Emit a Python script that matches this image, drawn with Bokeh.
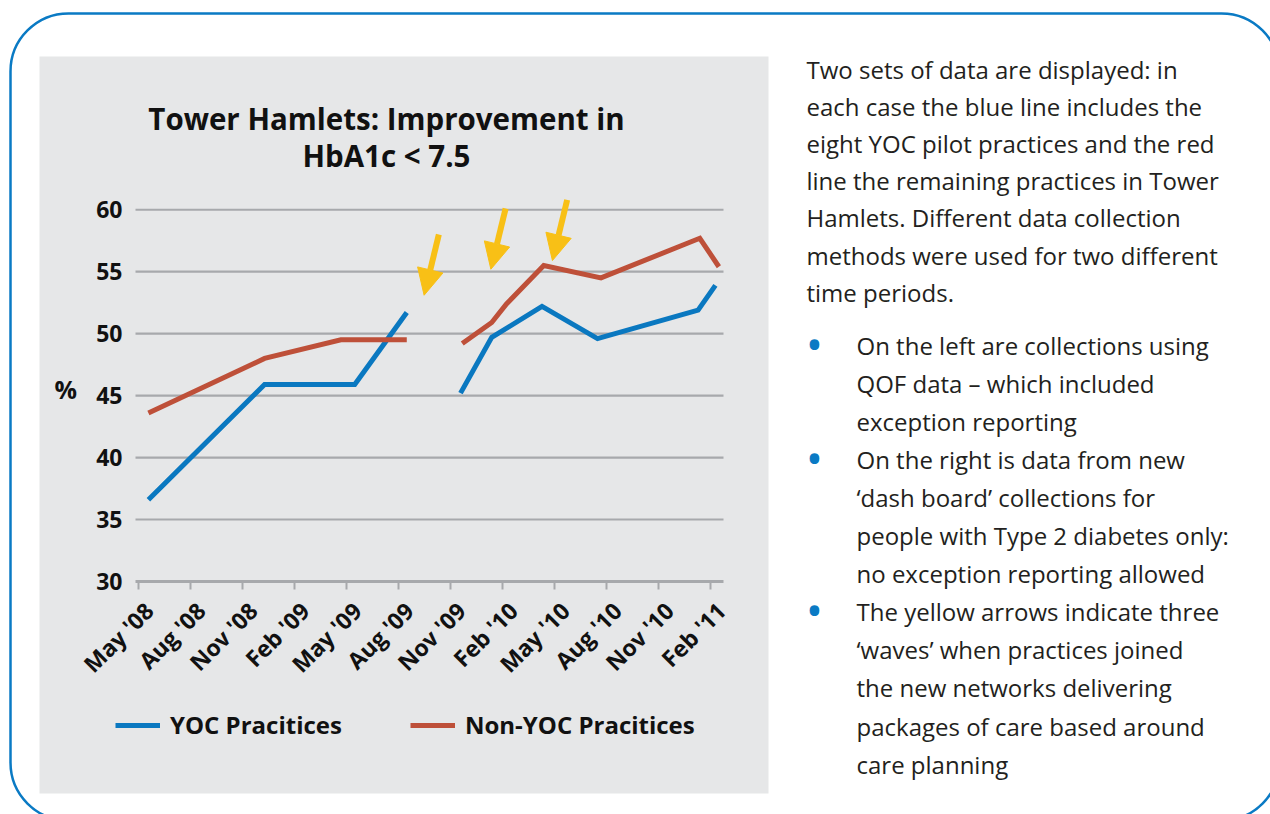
import math
from bokeh.plotting import figure
from bokeh.models import (Range1d, LinearAxis, FixedTicker, Label, BoxAnnotation,
                          Arrow, NormalHead, Legend, LegendItem, ColumnDataSource)
from bokeh.core.properties import value
from bokeh.embed import file_html
from bokeh.resources import INLINE

# ---------------- data ----------------
# x = months since May 2008
tick_months = [0, 3, 6, 9, 12, 15, 18, 21, 24, 27, 30, 33]
tick_labels = ["May '08", "Aug '08", "Nov '08", "Feb '09", "May '09", "Aug '09",
               "Nov '09", "Feb '10", "May '10", "Aug '10", "Nov '10", "Feb '11"]
y_ticks = [30, 35, 40, 45, 50, 55, 60]

# QOF period (left)
yoc_qof_x = [0.6, 7.3, 12.5, 15.5]
yoc_qof_y = [36.6, 45.9, 45.9, 51.7]
non_qof_x = [0.6, 7.3, 11.7, 15.5]
non_qof_y = [43.6, 48.0, 49.5, 49.5]
# dash board period (right)
yoc_dash_x = [18.6, 20.4, 23.3, 26.5, 32.3, 33.3]
yoc_dash_y = [45.2, 49.7, 52.2, 49.6, 51.9, 53.9]
non_dash_x = [18.7, 20.4, 21.25, 23.4, 26.7, 32.4, 33.5]
non_dash_y = [49.2, 50.9, 52.4, 55.5, 54.5, 57.7, 55.4]

# the three 'waves' (yellow arrows): tail -> head
wave_x_start = [17.35, 21.2, 24.75]
wave_y_start = [58.0, 60.1, 60.8]
wave_x_end = [16.5, 20.35, 23.9]
wave_y_end = [53.1, 55.2, 55.9]

series_names = ["YOC Pracitices", "Non-YOC Pracitices"]
title_lines = ["Tower Hamlets: Improvement in", "HbA1c < 7.5"]
para_lines = ["Two sets of data are displayed: in",
              "each case the blue line includes the",
              "eight YOC pilot practices and the red",
              "line the remaining practices in Tower",
              "Hamlets. Different data collection",
              "methods were used for two different",
              "time periods."]
bullet_lines = [["On the left are collections using",
                 "QOF data \u2013 which included",
                 "exception reporting"],
                ["On the right is data from new",
                 "\u2018dash board\u2019 collections for",
                 "people with Type 2 diabetes only:",
                 "no exception reporting allowed"],
                ["The yellow arrows indicate three",
                 "\u2018waves\u2019 when practices joined",
                 "the new networks delivering",
                 "packages of care based around",
                 "care planning"]]

# ---------------- layout constants ----------------
W, H = 1270, 814
X0_PX = 137.5     # canvas x of month 0
PX_M = 17.34      # px per month
Y45_PX = 395.1    # canvas y of 45 %
PX_P = 12.39      # px per percentage point
DESC = 8          # text box bottom below the baseline


def px_x(px):
    return (px - X0_PX) / PX_M


def px_y(py):
    return 45 + (Y45_PX - py) / PX_P


BLUE = "#0a78c0"
RED = "#be5039"
YELLOW = "#f8c016"
GRAY_BG = "#e6e7e8"
GRID = "#a7a9ac"
BORDER = "#0a7ac4"
TXT = "#111111"
FONT = "Open Sans"

p = figure(width=W, height=H, output_backend="svg", toolbar_location=None,
           x_range=Range1d(px_x(0), px_x(W)),
           y_range=Range1d(px_y(H), px_y(0)),
           x_axis_type=None, y_axis_type=None, min_border=0,
           outline_line_color=None, background_fill_color="white",
           border_fill_color="white")

# outer rounded frame and grey chart panel
p.add_layout(BoxAnnotation(left=px_x(10), right=px_x(1279), top=px_y(13), bottom=px_y(820),
                           fill_color=None, fill_alpha=0, line_color=BORDER, line_alpha=1,
                           line_width=2.5, border_radius=58, level="underlay"))
p.add_layout(BoxAnnotation(left=px_x(39), right=px_x(768), top=px_y(56), bottom=px_y(793),
                           fill_color=GRAY_BG, fill_alpha=1, line_color=None,
                           level="underlay"))

x_lo, x_hi = px_x(135), px_x(723)

# gridlines
gy = [v for v in y_ticks if v != y_ticks[0]]
p.segment(x0=[x_lo] * len(gy), x1=[x_hi] * len(gy), y0=gy, y1=gy,
          line_color=GRID, line_width=2.2)

# axes
xaxis = LinearAxis(fixed_location=y_ticks[0], bounds=(x_lo, x_hi),
                   ticker=FixedTicker(ticks=tick_months))
xaxis.axis_line_color = GRID
xaxis.axis_line_width = 2.8
xaxis.major_tick_in = 0
xaxis.major_tick_out = 8
xaxis.major_tick_line_color = GRID
xaxis.major_tick_line_width = 2
xaxis.minor_tick_line_color = None
xaxis.major_label_text_color = None
p.add_layout(xaxis, "below")

# rotated month labels, anchored at the ticks
p.text(x=tick_months, y=[y_ticks[0]] * len(tick_months), text=tick_labels,
       angle=math.pi / 4, text_align="right", text_baseline="alphabetic",
       x_offset=11, y_offset=25, text_font=value(FONT), text_font_style="bold",
       text_font_size="23px", text_color=TXT)

yaxis = LinearAxis(fixed_location=x_lo, bounds=(y_ticks[0], y_ticks[-1]),
                   ticker=FixedTicker(ticks=y_ticks))
yaxis.axis_line_color = None
yaxis.major_tick_line_color = None
yaxis.minor_tick_line_color = None
yaxis.major_tick_in = 0
yaxis.major_tick_out = 0
yaxis.major_label_standoff = 13
yaxis.major_label_text_font = FONT
yaxis.major_label_text_font_style = "bold"
yaxis.major_label_text_font_size = "23px"
yaxis.major_label_text_color = TXT
p.add_layout(yaxis, "left")

p.add_layout(Label(x=px_x(54), y=px_y(405), text="%", text_font=FONT,
                   text_baseline="bottom",
                   text_font_style="bold", text_font_size="25px", text_color=TXT))

# series (NaN separates the two collection periods)
nan = float("nan")
yoc_x = yoc_qof_x + [nan] + yoc_dash_x
yoc_y = yoc_qof_y + [nan] + yoc_dash_y
non_x = non_qof_x + [nan] + non_dash_x
non_y = non_qof_y + [nan] + non_dash_y

r_yoc = p.line(yoc_x, yoc_y, line_color=BLUE, line_width=5, line_join="miter")
r_non = p.line(non_x, non_y, line_color=RED, line_width=5, line_join="miter")

# arrows
src = ColumnDataSource(dict(x0=wave_x_start, y0=wave_y_start, x1=wave_x_end, y1=wave_y_end))
p.add_layout(Arrow(x_start="x0", y_start="y0", x_end="x1", y_end="y1", source=src,
                   line_color=YELLOW, line_width=6,
                   end=NormalHead(size=26, fill_color=YELLOW, line_color=YELLOW, line_width=1)))

# title
for i, t in enumerate(title_lines):
    p.add_layout(Label(x=px_x(386), y=px_y(129 + 37 * i + DESC + 1), text=t,
                       text_align="center", text_baseline="bottom",
                       text_font=FONT, text_font_style="bold", text_font_size="29.5px",
                       text_color=TXT))

# legend
legend = Legend(items=[LegendItem(label=series_names[0], renderers=[r_yoc]),
                       LegendItem(label=series_names[1], renderers=[r_non])],
                orientation="horizontal", location=(115, H - 725 - 16),
                padding=0, margin=0, spacing=68, glyph_width=45, glyph_height=20,
                label_height=20, label_standoff=10,
                label_text_font=FONT, label_text_font_style="bold",
                label_text_font_size="24px", label_text_color=TXT,
                background_fill_alpha=0, border_line_color=None)
p.add_layout(legend)

# explanatory text on the right
PCOL = "#231f20"
for i, t in enumerate(para_lines):
    p.add_layout(Label(x=px_x(806), y=px_y(77 + 37.2 * i + DESC), text=t, text_font=FONT,
                       text_baseline="bottom",
                       text_font_size="24px", text_color=PCOL))
row = 0
for block in bullet_lines:
    for j, t in enumerate(block):
        yb = 353 + 38.1 * row
        if j == 0:
            p.add_layout(Label(x=px_x(814), y=px_y(yb - 11), text="\u2022", text_align="center",
                               text_baseline="middle", text_font=FONT,
                               text_font_size="46px", text_color=BORDER))
        p.add_layout(Label(x=px_x(856), y=px_y(yb + DESC), text=t, text_font=FONT,
                           text_baseline="bottom",
                           text_font_size="24px", text_color=PCOL))
        row += 1

open("out.html", "w").write(file_html(p, INLINE))
